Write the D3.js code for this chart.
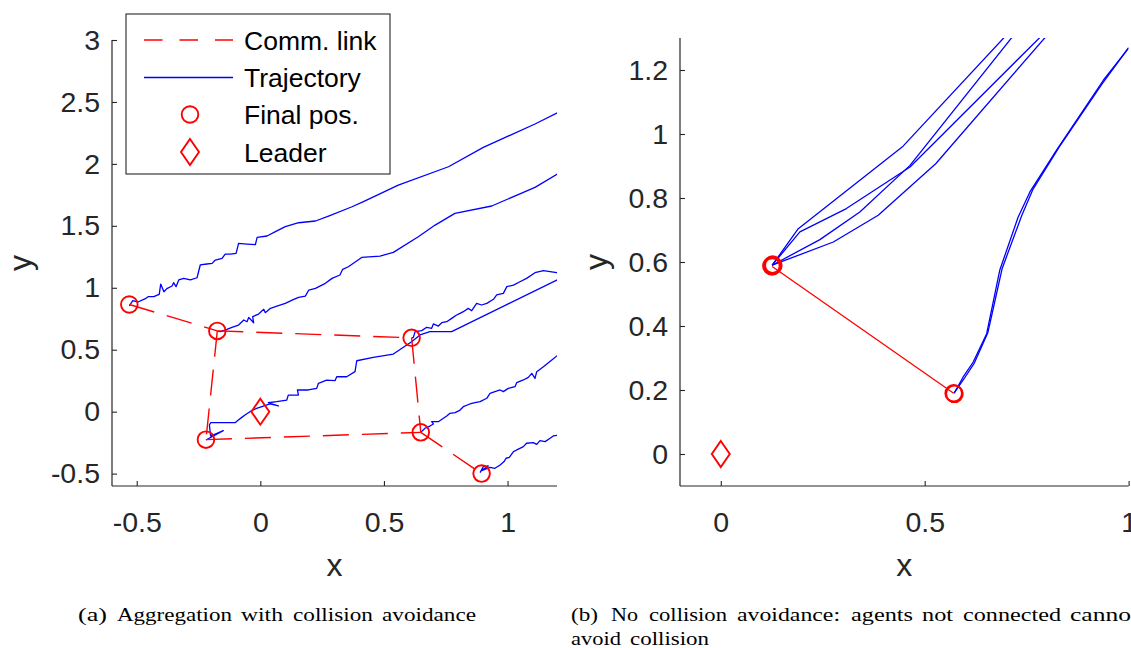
<!DOCTYPE html>
<html>
<head>
<meta charset="utf-8">
<script src="https://cdn.jsdelivr.net/npm/d3@7/dist/d3.min.js"></script>
<style>
  html, body { margin: 0; padding: 0; background: #fff; }
  svg { display: block; }
</style>
</head>
<body>
<svg id="chart" width="1131" height="648"></svg>
<script>
// ---------------- DATA ----------------
// Panel (a): aggregation with collision avoidance
const leftXTicks = [-0.5, 0, 0.5, 1];
const leftYTicks = [-0.5, 0, 0.5, 1, 1.5, 2, 2.5, 3];
const leftFinalX = [-0.53, -0.174, 0.612, -0.22, 0.649, 0.895];
const leftFinalY = [0.865, 0.652, 0.596, -0.226, -0.167, -0.5];
const leftLinks = [[0, 1], [1, 2], [1, 3], [2, 4], [3, 4], [4, 5]];
const leftLeaderX = [0];
const leftLeaderY = [0];

const trajA = [[-0.530,0.853],[-0.516,0.896],[-0.495,0.885],[-0.465,0.912],[-0.454,0.928],[-0.431,0.928],
  [-0.409,0.947],[-0.403,1.030],[-0.390,0.968],[-0.378,0.993],[-0.357,1.014],[-0.351,1.041],[-0.341,1.009],
  [-0.330,1.063],[-0.310,1.076],[-0.283,1.063],[-0.256,1.081],[-0.243,1.184],[-0.216,1.192],[-0.195,1.197],
  [-0.182,1.224],[-0.155,1.237],[-0.142,1.272],[-0.121,1.272],[-0.098,1.278],[-0.088,1.358],[-0.054,1.353],
  [-0.020,1.348],[-0.013,1.407],[0.027,1.418],[0.061,1.453],[0.101,1.493],[0.155,1.525],[0.223,1.539],
  [0.276,1.579],[0.371,1.654],[0.417,1.695],[0.558,1.829],[0.761,1.977],[0.902,2.133],[1.111,2.322],[1.21,2.421]];
const trajB = [[-0.171,0.650],[-0.162,0.646],[-0.135,0.664],[-0.115,0.681],[-0.088,0.699],[-0.067,0.740],
  [-0.054,0.726],[-0.047,0.761],[-0.027,0.718],[-0.031,0.767],[-0.007,0.788],[0.014,0.826],[0.020,0.799],
  [0.041,0.834],[0.061,0.847],[0.101,0.874],[0.135,0.906],[0.155,0.923],[0.182,0.933],[0.196,0.982],
  [0.223,0.995],[0.263,1.036],[0.290,1.076],[0.322,1.103],[0.333,1.149],[0.356,1.170],[0.410,1.245],
  [0.484,1.256],[0.538,1.286],[0.639,1.412],[0.707,1.506],[0.787,1.601],[0.936,1.660],[1.111,1.810],[1.21,1.929]];
const trajC = [[0.612,0.596],[0.619,0.600],[0.626,0.646],[0.653,0.654],[0.673,0.681],[0.693,0.673],[0.700,0.708],
  [0.720,0.691],[0.734,0.718],[0.754,0.726],[0.774,0.753],[0.794,0.780],[0.808,0.794],[0.821,0.807],
  [0.841,0.834],[0.855,0.815],[0.875,0.874],[0.895,0.861],[0.916,0.874],[0.943,0.907],[0.956,0.942],
  [0.983,0.955],[0.997,1.009],[1.024,1.022],[1.050,1.049],[1.077,1.076],[1.111,1.122],[1.145,1.138],
  [1.199,1.122],[1.212,1.127]];
const trajD = [[-0.220,-0.229],[-0.150,-0.153],[-0.201,-0.197],[-0.206,-0.108],[-0.201,-0.089],[-0.102,-0.089],
  [-0.089,-0.067],[-0.075,-0.046],[-0.062,-0.027],[-0.042,0.0],[-0.015,0.027],[0.039,0.062],[0.073,0.046],
  [0.032,0.072],[0.066,0.081],[0.107,0.094],[0.113,0.134],[0.154,0.134],[0.150,0.175],[0.194,0.175],
  [0.228,0.188],[0.235,0.229],[0.268,0.255],[0.302,0.250],[0.309,0.282],[0.349,0.282],[0.383,0.323],
  [0.390,0.411],[0.457,0.438],[0.538,0.465],[0.612,0.565],[0.646,0.619],[0.686,0.646],[0.774,0.646],[1.206,1.068]];
const trajE = [[0.649,-0.167],[0.666,-0.134],[0.686,-0.116],[0.700,-0.099],[0.693,-0.081],[0.720,-0.081],
  [0.754,-0.035],[0.767,-0.013],[0.788,-0.008],[0.808,0.013],[0.821,0.040],[0.848,0.062],[0.868,0.073],
  [0.889,0.081],[0.916,0.108],[0.929,0.148],[0.949,0.162],[0.970,0.175],[0.983,0.162],[1.003,0.188],
  [1.030,0.202],[1.037,0.234],[1.064,0.256],[1.084,0.277],[1.098,0.309],[1.111,0.269],[1.118,0.323],
  [1.145,0.363],[1.179,0.417],[1.212,0.471]];
const trajF = [[0.889,-0.492],[0.902,-0.444],[0.922,-0.438],[0.895,-0.476],[0.929,-0.449],[0.949,-0.457],
  [0.970,-0.430],[0.986,-0.403],[0.994,-0.376],[1.007,-0.369],[1.024,-0.323],[1.037,-0.309],[1.050,-0.296],
  [1.064,-0.282],[1.077,-0.255],[1.104,-0.250],[1.118,-0.264],[1.131,-0.234],[1.152,-0.242],[1.172,-0.215],
  [1.185,-0.196],[1.208,-0.188]];
const leftTrajectories = [trajA, trajB, trajC, trajD, trajE, trajF];

// Panel (b): no collision avoidance
const rightXTicks = [0, 0.5, 1];
const rightYTicks = [0, 0.2, 0.4, 0.6, 0.8, 1, 1.2];
const rightFinalX = [0.124, 0.127, 0.129, 0.126, 0.571, 0.573];
const rightFinalY = [0.588, 0.592, 0.589, 0.586, 0.19, 0.188];
const rightLinks = [[3, 4]];
const rightLeaderX = [0];
const rightLeaderY = [0];
const rTraj1 = [[0.126,0.590],[0.190,0.704],[0.447,0.962],[0.701,1.31]];
const rTraj2 = [[0.126,0.590],[0.194,0.694],[0.308,0.767],[0.464,0.897],[0.789,1.31]];
const rTraj3 = [[0.126,0.590],[0.243,0.670],[0.341,0.756],[0.464,0.902],[0.719,1.31]];
const rTraj4 = [[0.126,0.590],[0.276,0.6625],[0.386,0.746],[0.527,0.907],[0.801,1.31]];
const rTraj5 = [[0.572,0.190],[0.594,0.240],[0.619,0.2875],[0.652,0.376],[0.684,0.574],[0.729,0.740],
  [0.758,0.819],[0.823,0.949],[0.938,1.168],[0.999,1.267]];
const rTraj6 = [[0.572,0.190],[0.597,0.236],[0.622,0.285],[0.655,0.380],[0.676,0.500],[0.690,0.580],
  [0.738,0.745],[0.765,0.826],[0.830,0.960],[0.935,1.157],[1.0,1.27]];
const rightTrajectories = [rTraj1, rTraj2, rTraj3, rTraj4, rTraj5, rTraj6];

const legendLabels = ["Comm. link", "Trajectory", "Final pos.", "Leader"];
const captionAWords = ["(a)", "Aggregation", "with", "collision", "avoidance"];
const captionB1Words = ["(b)", "No", "collision", "avoidance:", "agents", "not", "connected", "cannot"];
const captionB2Words = ["avoid", "collision"];

// ---------------- LAYOUT ----------------
// word boxes [start, end] in pixels, measured from the reference
const capALayout = [[78, 107], [117, 232], [241, 283], [293, 373], [382, 476]];
const capB1Layout = [[571, 598], [611, 638], [649, 727], [737, 840], [851, 913], [922, 953], [963, 1061], [1070, 1138]];
const capB2Layout = [[571, 621], [630, 709]];

// ---------------- DRAWING ----------------
const svg = d3.select("#chart");
svg.append("rect").attr("width", 1131).attr("height", 648).attr("fill", "#fff");

const AX = "#262626";
const BLUE = "#0000ff";
const RED = "#ff0000";
const FONT = "'Liberation Sans', Arial, Helvetica, sans-serif";

function panel(cfg) {
  const x = d3.scaleLinear().domain(cfg.xDomain).range(cfg.xRange);
  const y = d3.scaleLinear().domain(cfg.yDomain).range(cfg.yRange);
  const g = svg.append("g");
  const clipId = "clip" + cfg.id;
  svg.append("clipPath").attr("id", clipId).append("rect")
    .attr("x", cfg.xRange[0]).attr("y", cfg.yRange[1])
    .attr("width", cfg.xRange[1] - cfg.xRange[0])
    .attr("height", cfg.yRange[0] - cfg.yRange[1]);
  const plot = g.append("g").attr("clip-path", `url(#${clipId})`);
  const line = d3.line().x(d => x(d[0])).y(d => y(d[1]));

  plot.selectAll("path.traj").data(cfg.traj).enter().append("path")
    .attr("class", "traj").attr("d", line)
    .attr("fill", "none").attr("stroke", BLUE).attr("stroke-width", 1.3)
    .attr("stroke-linejoin", "round");

  plot.selectAll("line.link").data(cfg.links).enter().append("line")
    .attr("x1", d => x(cfg.fx[d[0]])).attr("y1", d => y(cfg.fy[d[0]]))
    .attr("x2", d => x(cfg.fx[d[1]])).attr("y2", d => y(cfg.fy[d[1]]))
    .attr("stroke", RED).attr("stroke-width", cfg.linkWidth)
    .attr("stroke-dasharray", cfg.dash || null);

  plot.selectAll("circle.fin").data(cfg.fx.map((v, i) => [v, cfg.fy[i]])).enter().append("circle")
    .attr("cx", d => x(d[0])).attr("cy", d => y(d[1])).attr("r", 8.3)
    .attr("fill", "none").attr("stroke", RED).attr("stroke-width", 1.9);

  plot.selectAll("path.leader").data(cfg.lx.map((v, i) => [v, cfg.ly[i]])).enter().append("path")
    .attr("d", d => {
      const cx = x(d[0]), cy = y(d[1]);
      return `M${cx},${cy - 13}L${cx + 9},${cy}L${cx},${cy + 13}L${cx - 9},${cy}Z`;
    })
    .attr("fill", "none").attr("stroke", RED).attr("stroke-width", 1.9);

  const fmt = d => String(d);
  const xAxis = d3.axisBottom(x).tickValues(cfg.xTicks).tickFormat(fmt).tickSize(-5).tickPadding(26);
  const yAxis = d3.axisLeft(y).tickValues(cfg.yTicks).tickFormat(fmt).tickSize(-5).tickPadding(12);
  const gx = g.append("g").attr("transform", `translate(0,${cfg.yRange[0]})`).call(xAxis);
  const gy = g.append("g").attr("transform", `translate(${cfg.xRange[0]},0)`).call(yAxis);
  [gx, gy].forEach(a => {
    a.select(".domain").remove();
    a.selectAll(".tick line").attr("stroke", AX).attr("stroke-width", 1.1);
    a.selectAll(".tick text").attr("fill", AX).attr("font-family", FONT).attr("font-size", 28.5);
  });
  g.append("line").attr("x1", cfg.xRange[0]).attr("x2", cfg.xRange[1])
    .attr("y1", cfg.yRange[0]).attr("y2", cfg.yRange[0]).attr("stroke", AX).attr("stroke-width", 1.2);
  g.append("line").attr("x1", cfg.xRange[0]).attr("x2", cfg.xRange[0])
    .attr("y1", cfg.yRange[0]).attr("y2", cfg.yRange[1]).attr("stroke", AX).attr("stroke-width", 1.2);
  gx.selectAll(".tick text").attr("dy", "0.71em");

  g.append("text").text("x")
    .attr("x", (cfg.xRange[0] + cfg.xRange[1]) / 2).attr("y", 576)
    .attr("text-anchor", "middle").attr("font-family", FONT).attr("font-size", 32).attr("fill", AX);
  g.append("text").text("y")
    .attr("transform", `translate(${cfg.yLabelX},${(cfg.yRange[0] + cfg.yRange[1]) / 2}) rotate(-90)`)
    .attr("text-anchor", "middle").attr("font-family", FONT).attr("font-size", 32).attr("fill", AX);
  return { x, y };
}

panel({
  id: "L", xDomain: [-0.6, 1.2], yDomain: [-0.6, 3], xRange: [112, 557], yRange: [486, 40],
  xTicks: leftXTicks, yTicks: leftYTicks, traj: leftTrajectories, links: leftLinks,
  fx: leftFinalX, fy: leftFinalY, lx: leftLeaderX, ly: leftLeaderY, dash: "26,13", linkWidth: 1.4, yLabelX: 31
});
panel({
  id: "R", xDomain: [-0.1, 1], yDomain: [-0.1, 1.3], xRange: [680, 1128.6], yRange: [486, 38],
  xTicks: rightXTicks, yTicks: rightYTicks, traj: rightTrajectories, links: rightLinks,
  fx: rightFinalX, fy: rightFinalY, lx: rightLeaderX, ly: rightLeaderY, dash: null, linkWidth: 1.3, yLabelX: 607
});

// legend
const lg = svg.append("g");
lg.append("rect").attr("x", 126).attr("y", 14).attr("width", 264).attr("height", 160)
  .attr("fill", "#fff").attr("stroke", AX).attr("stroke-width", 1.1);
const rowY = [40, 77.5, 114.5, 152];
legendLabels.forEach((t, i) => {
  lg.append("text").text(t).attr("x", 244).attr("y", rowY[i]).attr("dy", "0.36em")
    .attr("font-family", FONT).attr("font-size", 26.5).attr("fill", "#000");
});
lg.append("line").attr("x1", 144).attr("x2", 233).attr("y1", rowY[0]).attr("y2", rowY[0])
  .attr("stroke", RED).attr("stroke-width", 1.4).attr("stroke-dasharray", "18.5,17");
lg.append("line").attr("x1", 144).attr("x2", 233).attr("y1", rowY[1]).attr("y2", rowY[1])
  .attr("stroke", BLUE).attr("stroke-width", 1.3);
lg.append("circle").attr("cx", 190).attr("cy", rowY[2]).attr("r", 8.3)
  .attr("fill", "none").attr("stroke", RED).attr("stroke-width", 1.9);
lg.append("path").attr("d", `M190,${rowY[3] - 13}L199,${rowY[3]}L190,${rowY[3] + 13}L181,${rowY[3]}Z`)
  .attr("fill", "none").attr("stroke", RED).attr("stroke-width", 1.9);

// captions (serif, word-justified like the LaTeX subcaptions)
const SERIF = "'Liberation Serif', 'DejaVu Serif', serif";
function caption(words, layout, baseline) {
  const t = svg.append("g");
  t.selectAll("text").data(words).enter().append("text")
    .text(d => d)
    .attr("x", (d, i) => layout[i][0]).attr("y", baseline)
    .attr("textLength", (d, i) => layout[i][1] - layout[i][0])
    .attr("lengthAdjust", "spacingAndGlyphs")
    .attr("font-family", SERIF).attr("font-size", 18.5).attr("fill", "#000");
}
caption(captionAWords, capALayout, 621);
caption(captionB1Words, capB1Layout, 621);
caption(captionB2Words, capB2Layout, 645);
</script>
</body>
</html>
